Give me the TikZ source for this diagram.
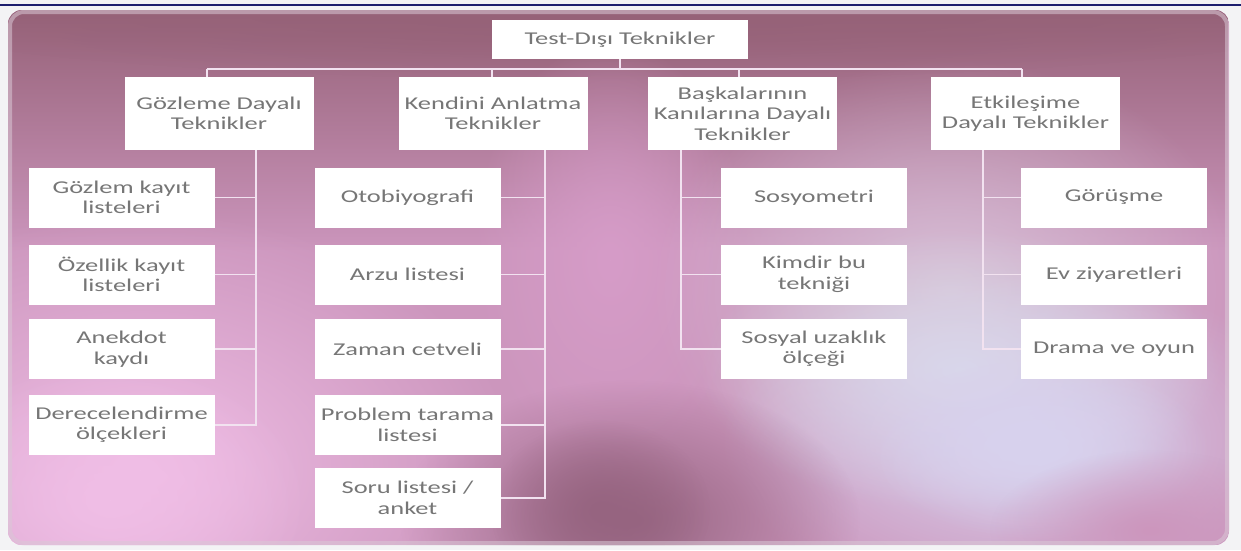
\documentclass[tikz,border=0pt]{standalone}
\usepackage{fontspec}
\setmainfont{Carlito}[FakeStretch=1.47]
\usetikzlibrary{fadings}
\definecolor{txt}{RGB}{118,118,118}
\definecolor{pagebg}{RGB}{243,243,245}
\definecolor{navyline}{RGB}{28,30,110}
\definecolor{mauvetop}{RGB}{150,98,120}
\definecolor{pinkbase}{RGB}{204,150,189}
\definecolor{lightpink}{RGB}{240,190,230}
\definecolor{midpink}{RGB}{214,156,200}
\definecolor{lavender}{RGB}{216,210,238}
\definecolor{bluegray}{RGB}{218,220,232}
\definecolor{palerose}{RGB}{214,192,214}
\definecolor{darkmauve}{RGB}{150,100,128}
\definecolor{connc}{RGB}{242,226,240}
\definecolor{rimc}{RGB}{218,200,214}
\tikzfading[name=blobfade, inner color=transparent!0, outer color=transparent!100]
\tikzfading[name=topdown, top color=transparent!0, bottom color=transparent!100]
\tikzset{
  boxbase/.style={fill=white, inner sep=0pt, align=center, text=txt,
    font=\fontsize{18}{20.5}\selectfont},
  rootbox/.style={boxbase, minimum width=256, minimum height=39},
  catbox/.style={boxbase, minimum width=189, minimum height=73},
  leafbox/.style={boxbase, minimum width=186, minimum height=60},
  conn/.style={draw=connc, line width=1.3pt},
  blob/.style={path fading=blobfade}
}
\begin{document}
\begin{tikzpicture}[x=1pt,y=-1pt]
\useasboundingbox (0,0) rectangle (1241,550);
\fill[pagebg] (0,0) rectangle (1241,550);
\draw[navyline, line width=1.5pt] (0,5) -- (1241,5);
% panel background
\begin{scope}
\clip[rounded corners=14pt] (8,10) rectangle (1229,545);
\fill[pinkbase] (8,10) rectangle (1229,545);
\fill[mauvetop, path fading=topdown] (8,10) rectangle (1229,250);
\fill[mauvetop, blob] (620,10) ellipse [x radius=760, y radius=70];
\fill[lightpink, blob] (140,470) ellipse [x radius=380, y radius=260];
\fill[lightpink, blob] (110,500) ellipse [x radius=200, y radius=140];
\fill[midpink, blob] (610,260) ellipse [x radius=140, y radius=220];
\fill[palerose, blob] (950,290) ellipse [x radius=300, y radius=230];
\fill[bluegray, blob] (960,370) ellipse [x radius=260, y radius=140];
\fill[lavender, blob] (1020,440) ellipse [x radius=300, y radius=170];
\fill[lavender, blob] (1040,450) ellipse [x radius=170, y radius=90];
\fill[darkmauve, blob] (630,520) ellipse [x radius=230, y radius=140];
\fill[darkmauve, blob] (600,510) ellipse [x radius=110, y radius=90];
\fill[pinkbase, blob] (1150,530) ellipse [x radius=160, y radius=80];
\end{scope}
\draw[rimc, line width=4pt, draw opacity=0.55, rounded corners=14pt] (10,12) rectangle (1227,543);
% nodes
\node[rootbox] (root) at (620,39.5) {Test-Dışı Teknikler};
\node[catbox] (gz) at (219,113.5) {Gözleme Dayalı\\Teknikler};
\node[catbox] (ka) at (493,113.5) {Kendini Anlatma\\Teknikler};
\node[catbox] (bk) at (742.5,113.5) {Başkalarının\\Kanılarına Dayalı\\Teknikler};
\node[catbox] (et) at (1025.5,113.5) {Etkileşime\\Dayalı Teknikler};
% Gözleme children
\node[leafbox] (g1) at (121.5,197.5) {Gözlem kayıt\\listeleri};
\node[leafbox] (g2) at (121.5,274.5) {Özellik kayıt\\listeleri};
\node[leafbox] (g3) at (121.5,349) {Anekdot\\kaydı};
\node[leafbox] (g4) at (121.5,425) {Derecelendirme\\ölçekleri};
% Kendini children
\node[leafbox] (k1) at (407.5,197.5) {Otobiyografi};
\node[leafbox] (k2) at (407.5,274.5) {Arzu listesi};
\node[leafbox] (k3) at (407.5,349) {Zaman cetveli};
\node[leafbox] (k4) at (407.5,425) {Problem tarama\\listesi};
\node[leafbox] (k5) at (407.5,498) {Soru listesi /\\anket};
% Baskalarinin children
\node[leafbox] (b1) at (814,197.5) {Sosyometri};
\node[leafbox] (b2) at (814,274.5) {Kimdir bu\\tekniği};
\node[leafbox] (b3) at (814,349) {Sosyal uzaklık\\ölçeği};
% Etkilesim children
\node[leafbox] (e1) at (1114,197.5) {Görüşme};
\node[leafbox] (e2) at (1114,274.5) {Ev ziyaretleri};
\node[leafbox] (e3) at (1114,349) {Drama ve oyun};
% connector coordinates
\coordinate (bus) at (620,69);
\coordinate (dg) at (207,69);
\coordinate (dk) at (492,69);
\coordinate (db) at (739,69);
\coordinate (de) at (1022,69);
\coordinate (tg) at (256,0);
\coordinate (tk) at (545,0);
\coordinate (tb) at (681,0);
\coordinate (te) at (983,0);
% top level connectors
\draw[conn] (root.south) -- (bus);
\draw[conn] (dg) -- (de);
\draw[conn] (dg) -- (dg |- gz.north);
\draw[conn] (dk) -- (dk |- ka.north);
\draw[conn] (db) -- (db |- bk.north);
\draw[conn] (de) -- (de |- et.north);
% trunks
\draw[conn] (tg |- gz.south) -- (tg |- g4.east) -- (g4.east);
\draw[conn] (g1.east) -- (g1.east -| tg);
\draw[conn] (g2.east) -- (g2.east -| tg);
\draw[conn] (g3.east) -- (g3.east -| tg);
\draw[conn] (tk |- ka.south) -- (tk |- k5.east) -- (k5.east);
\draw[conn] (k1.east) -- (k1.east -| tk);
\draw[conn] (k2.east) -- (k2.east -| tk);
\draw[conn] (k3.east) -- (k3.east -| tk);
\draw[conn] (k4.east) -- (k4.east -| tk);
\draw[conn] (tb |- bk.south) -- (tb |- b3.west) -- (b3.west);
\draw[conn] (b1.west) -- (b1.west -| tb);
\draw[conn] (b2.west) -- (b2.west -| tb);
\draw[conn] (te |- et.south) -- (te |- e3.west) -- (e3.west);
\draw[conn] (e1.west) -- (e1.west -| te);
\draw[conn] (e2.west) -- (e2.west -| te);
\end{tikzpicture}
\end{document}
